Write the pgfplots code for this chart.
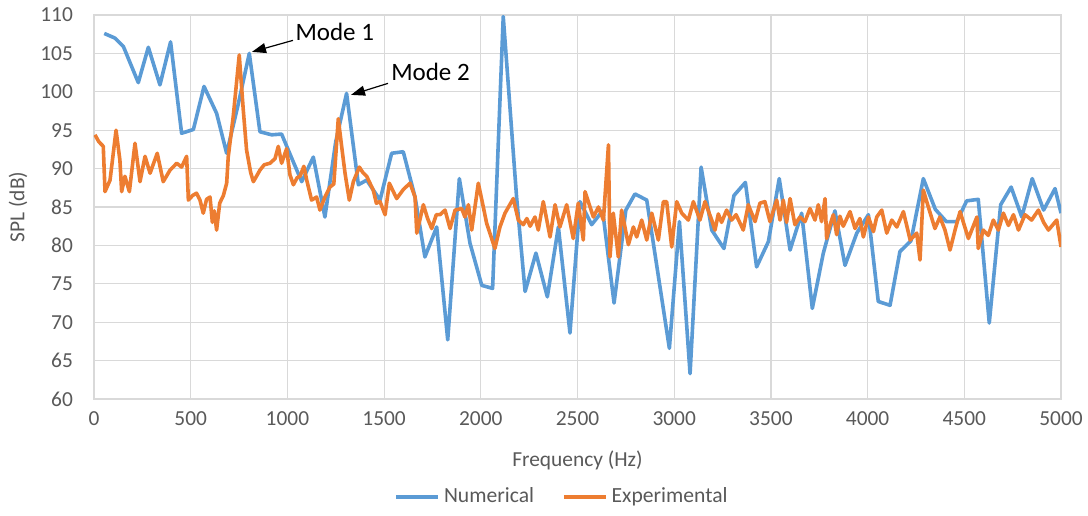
\documentclass[border=0pt]{standalone}
\usepackage{fontspec}
\setmainfont{Carlito}
\usepackage{pgfplots}
\pgfplotsset{compat=1.18}
\usetikzlibrary{arrows.meta}
\definecolor{numblue}{HTML}{5B9BD5}
\definecolor{exporange}{HTML}{ED7D31}
\definecolor{gridgray}{HTML}{D9D9D9}
\definecolor{labelgray}{HTML}{595959}

% Numerical (simulated) sound pressure level spectrum
\pgfplotstableread{
f v
53 107.6
108 107.0
152 105.9
229 101.2
281 105.8
341 100.9
396 106.5
453 94.6
514 95.1
569 100.7
634 97.2
686 92.0
745 98.3
803 105.0
858 94.8
919 94.4
970 94.5
1020 91.5
1074 88.3
1134 91.5
1194 83.7
1250 93.5
1306 99.8
1367 87.9
1410 88.5
1479 85.9
1539 92.0
1599 92.2
1660 86.3
1711 78.5
1772 82.4
1829 67.7
1889 88.7
1944 80.3
2005 74.8
2061 74.4
2116 109.8
2185 86.3
2229 74.0
2285 79.0
2344 73.3
2401 82.4
2461 68.6
2513 85.7
2573 82.7
2630 84.5
2689 72.5
2750 84.6
2797 86.7
2858 85.9
2975 66.6
3027 83.1
3082 63.3
3139 90.2
3194 82.0
3257 79.6
3309 86.5
3368 88.2
3426 77.2
3487 80.5
3543 88.7
3599 79.4
3659 84.2
3714 71.8
3771 79.0
3831 84.5
3883 77.4
3944 81.6
4004 84.0
4055 72.7
4116 72.2
4167 79.2
4224 80.6
4288 88.7
4350 84.7
4407 83.1
4461 83.1
4512 85.8
4572 86.0
4629 69.9
4688 85.3
4742 87.6
4797 83.7
4851 88.7
4910 84.6
4969 87.4
5000 84.2
}\numerical

% Measured sound pressure level spectrum
\pgfplotstableread{
f v
5 94.4
25 93.5
48 92.9
57 87.0
83 88.5
114 95.0
134 91.1
143 87.0
160 89.0
183 87.0
212 93.3
238 88.3
264 91.6
290 89.4
327 92.0
358 88.3
393 89.8
428 90.7
453 90.2
479 91.6
488 85.9
510 86.5
530 86.8
548 85.9
565 84.2
582 86.0
600 86.3
612 83.0
622 84.5
634 82.0
650 85.5
669 86.5
686 88.1
694 91.5
720 96.8
751 104.8
772 97.6
789 92.4
810 89.5
824 88.3
840 89.0
858 89.8
880 90.5
910 90.7
936 91.3
953 92.9
970 90.7
996 92.6
1013 89.2
1031 87.9
1050 88.8
1065 89.0
1085 90.3
1100 88.5
1125 85.9
1151 86.3
1168 84.6
1194 86.3
1220 87.6
1240 88.0
1263 96.5
1280 93.0
1298 89.4
1320 85.9
1341 88.3
1372 90.2
1390 89.5
1410 89.0
1444 87.2
1460 85.5
1479 85.7
1505 84.0
1527 88.1
1565 86.1
1600 87.3
1634 88.1
1660 86.3
1669 81.6
1703 85.3
1725 83.5
1746 82.2
1770 84.0
1789 84.0
1815 84.6
1841 82.2
1867 84.6
1901 84.8
1918 83.7
1936 85.3
1953 82.0
1987 88.1
2013 85.0
2030 82.9
2073 79.6
2099 82.4
2125 84.2
2168 86.1
2194 83.3
2220 82.7
2238 83.5
2255 82.5
2280 83.7
2297 82.0
2323 85.7
2358 81.1
2384 85.3
2409 82.4
2444 85.3
2478 80.9
2504 85.5
2530 80.7
2539 87.0
2565 85.0
2582 83.7
2608 85.0
2634 83.3
2660 93.1
2668 78.5
2685 84.2
2711 78.5
2728 84.6
2763 80.1
2789 82.4
2806 81.1
2832 83.3
2858 80.7
2884 84.2
2918 80.7
2944 85.7
2961 85.7
2987 79.8
3013 85.7
3039 84.2
3073 83.3
3099 85.7
3133 83.3
3159 85.7
3194 83.3
3211 82.0
3228 84.1
3245 83.0
3271 84.6
3297 83.3
3320 84.0
3357 82.0
3383 85.3
3418 83.1
3443 85.5
3469 85.7
3495 83.1
3530 85.9
3547 83.3
3564 85.9
3581 83.0
3599 86.1
3624 82.7
3650 83.7
3676 83.1
3702 84.8
3728 83.3
3745 85.3
3762 83.1
3780 86.1
3788 80.9
3806 82.7
3823 84.0
3840 81.4
3857 83.8
3874 82.5
3909 84.4
3935 82.2
3960 83.5
3978 81.1
4004 83.7
4030 81.8
4047 83.7
4073 84.6
4099 81.6
4125 83.3
4151 82.4
4185 84.4
4220 80.7
4254 81.6
4271 78.1
4288 87.2
4314 85.0
4348 82.2
4374 83.7
4400 82.0
4426 79.4
4452 82.0
4478 84.4
4521 80.9
4565 83.7
4572 79.6
4598 82.0
4624 81.3
4650 83.3
4676 82.0
4702 84.2
4728 82.6
4754 84.0
4780 82.0
4814 84.0
4848 83.3
4883 84.6
4910 83.0
4935 82.0
4978 83.3
5000 79.8
}\experimental

\begin{document}
\begin{tikzpicture}
\begin{axis}[
  scale only axis,
  width=483.5pt, height=192pt,
  xmin=0, xmax=5000, ymin=60, ymax=110,
  xtick distance=500, ytick distance=5,
  grid=major,
  major grid style={gridgray, line width=0.6pt},
  axis line style={gridgray, line width=0.7pt},
  tick style={draw=none},
  ticklabel style={font=\fontsize{10.7}{12}\selectfont, text=labelgray},
  xticklabel style={yshift=-3pt},
  yticklabel style={xshift=-7pt},
  /pgf/number format/assume math mode=true,
  /pgf/number format/set thousands separator={},
  xlabel={Frequency (Hz)},
  ylabel={SPL (dB)},
  label style={font=\fontsize{10.7}{12}\selectfont, text=labelgray},
  xlabel style={at={(axis description cs:0.5,-0.159)}, anchor=center},
  ylabel style={at={(axis description cs:-0.0786,0.5)}, anchor=center},
  legend columns=2,
  legend style={at={(axis description cs:0.485,-0.255)}, anchor=center,
    draw=none, fill=none, font=\fontsize{10.8}{12}\selectfont, text=labelgray,
    /tikz/every even column/.append style={column sep=12pt}},
  legend image code/.code={\draw[#1] (0pt,0pt) -- (21pt,0pt);},
  every axis plot/.append style={line width=1.8pt, line join=round},
]
\addplot[numblue] table[x=f, y=v] {\numerical};
\addlegendentry{Numerical}
\addplot[exporange] table[x=f, y=v] {\experimental};
\addlegendentry{Experimental}

% mode annotations
\draw[-{Triangle[length=7pt, width=5pt]}, line width=0.6pt] (axis cs:1029,106.7) -- (axis cs:817,105.2);
\node[anchor=west, inner sep=0pt, font=\fontsize{12.5}{14}\selectfont] at (axis cs:1040,107.8) {Mode 1};
\draw[-{Triangle[length=7pt, width=5pt]}, line width=0.6pt] (axis cs:1520,101.1) -- (axis cs:1329,99.6);
\node[anchor=west, inner sep=0pt, font=\fontsize{12.5}{14}\selectfont] at (axis cs:1535,102.6) {Mode 2};

\coordinate (bbSW) at (rel axis cs:-0.0972,-0.3021);
\coordinate (bbNE) at (rel axis cs:1.0279,1.0391);
\end{axis}
\pgfresetboundingbox
\path (bbSW) rectangle (bbNE);
\end{tikzpicture}
\end{document}
